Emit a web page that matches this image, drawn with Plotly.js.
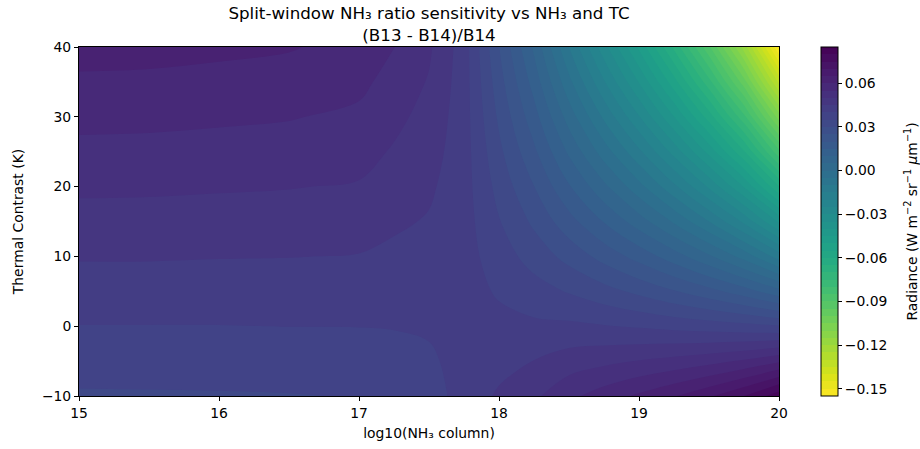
<!DOCTYPE html>
<html><head><meta charset="utf-8">
<script src="https://cdn.plot.ly/plotly-3.0.1.min.js"></script>
<style>html,body{margin:0;padding:0;background:#fff}#chart{width:920px;height:449px}</style>
</head><body><div id="chart"></div>
<script>
// log10(NH3 column) grid
const nh3Column = [15, 15.5, 16, 16.5, 17, 17.25, 17.5, 17.75, 18, 18.25, 18.5, 18.75, 19, 19.25, 19.5, 19.75, 20];
// Thermal contrast (K) grid
const thermalContrast = [-10, -5, 0, 5, 10, 15, 20, 25, 30, 35, 40];
// Ratio sensitivity, one row per thermal contrast
const ratioTCm10 = [0.0344, 0.0345, 0.0346, 0.0348, 0.0352, 0.0367, 0.0372, 0.0425, 0.0456, 0.0490, 0.0538, 0.0574, 0.0609, 0.0646, 0.0691, 0.0749, 0.0830];
const ratioTCm5  = [0.0372, 0.0372, 0.0373, 0.0374, 0.0376, 0.0385, 0.0390, 0.0423, 0.0436, 0.0451, 0.0474, 0.0488, 0.0502, 0.0516, 0.0533, 0.0557, 0.0592];
const ratioTC0   = [0.0399, 0.0399, 0.0399, 0.04005, 0.0401, 0.0402, 0.0408, 0.0421, 0.0415, 0.0410, 0.0410, 0.0403, 0.0395, 0.0385, 0.0376, 0.0366, 0.0354];
const ratioTC5   = [0.0427, 0.0426, 0.0426, 0.0426, 0.0424, 0.0421, 0.0421, 0.0421, 0.0394, 0.0370, 0.0346, 0.0318, 0.0288, 0.0254, 0.0217, 0.0173, 0.0116];
const ratioTC10  = [0.0454, 0.0454, 0.0452, 0.0451, 0.0448, 0.0439, 0.0433, 0.0421, 0.0374, 0.0330, 0.0283, 0.0232, 0.0181, 0.0124, 0.0059, -0.0019, -0.0122];
const ratioTC15  = [0.0482, 0.0481, 0.0479, 0.0477, 0.0472, 0.0458, 0.0446, 0.0421, 0.0353, 0.0290, 0.0219, 0.0147, 0.0074, -0.0007, -0.0099, -0.0211, -0.0360];
const ratioTC20  = [0.0509, 0.0508, 0.0505, 0.0502, 0.0496, 0.0476, 0.0458, 0.0421, 0.0333, 0.0251, 0.0155, 0.0062, -0.0033, -0.0138, -0.0258, -0.0403, -0.0598];
const ratioTC25  = [0.0537, 0.0535, 0.0532, 0.0528, 0.0518, 0.0495, 0.0471, 0.0422, 0.0312, 0.0210, 0.0091, -0.0024, -0.0139, -0.0268, -0.0416, -0.0594, -0.0836];
const ratioTC30  = [0.0564, 0.0563, 0.0558, 0.0553, 0.0540, 0.0513, 0.0483, 0.0423, 0.0291, 0.0170, 0.0028, -0.0109, -0.0246, -0.0399, -0.0574, -0.0786, -0.1074];
const ratioTC35  = [0.0592, 0.0590, 0.0585, 0.0579, 0.0562, 0.0532, 0.0496, 0.0424, 0.0271, 0.0130, -0.0036, -0.0195, -0.0353, -0.0529, -0.0732, -0.0978, -0.1312];
const ratioTC40  = [0.0619, 0.0617, 0.0611, 0.0604, 0.0583, 0.0551, 0.0508, 0.0425, 0.0251, 0.0090, -0.0101, -0.0281, -0.0461, -0.0661, -0.0891, -0.1171, -0.1552];
const ratioRows = [ratioTCm10, ratioTCm5, ratioTC0, ratioTC5, ratioTC10, ratioTC15, ratioTC20, ratioTC25, ratioTC30, ratioTC35, ratioTC40];

const xTickVals = [15, 16, 17, 18, 19, 20];
const yTickVals = [-10, 0, 10, 20, 30, 40];
const yTickText = ['\u221210', '0', '10', '20', '30', '40'];
const cbTickVals = [-0.15, -0.12, -0.09, -0.06, -0.03, 0, 0.03, 0.06];
const cbTickText = ['\u22120.15', '\u22120.12', '\u22120.09', '\u22120.06', '\u22120.03', '0.00', '0.03', '0.06'];

const FONT = 'DejaVu Sans, Verdana, sans-serif';
const TXT = '#000';

const trace = {
  type: 'contour',
  x: nh3Column,
  y: thermalContrast,
  z: ratioRows,
  colorscale: 'Viridis',
  reversescale: true,
  zauto: false,
  zmin: -0.155,
  zmax: 0.085,
  autocontour: false,
  contours: {start: -0.155, end: 0.085, size: 0.005, coloring: 'fill', showlines: false},
  line: {width: 0, smoothing: 1.0},
  hoverinfo: 'skip',
  colorbar: {
    x: 1.06, xanchor: 'left', y: 0.5, yanchor: 'middle',
    len: 1, lenmode: 'fraction', thickness: 17, thicknessmode: 'pixels',
    xpad: 0, ypad: 0,
    outlinewidth: 1, outlinecolor: '#000',
    ticks: 'outside', ticklen: 4, tickwidth: 1, tickcolor: '#000',
    tickmode: 'array', tickvals: cbTickVals, ticktext: cbTickText,
    tickfont: {family: FONT, size: 13.9, color: TXT}
  }
};

const layout = {
  width: 920, height: 449,
  margin: {l: 79, r: 141, t: 47, b: 53, pad: 0},
  paper_bgcolor: '#fff', plot_bgcolor: '#fff',
  font: {family: FONT, color: TXT, size: 13.9},
  title: {
    text: 'Split-window NH\u2083 ratio sensitivity vs NH\u2083 and TC<br>(B13 - B14)/B14',
    x: 0.5, xref: 'paper', xanchor: 'center',
    y: 0.957, yref: 'container', yanchor: 'top',
    font: {family: FONT, size: 16.7, color: TXT}
  },
  xaxis: {
    range: [15, 20], tickmode: 'array', tickvals: xTickVals,
    ticks: 'outside', ticklen: 4, tickwidth: 1, tickcolor: '#000',
    showline: true, mirror: true, linecolor: '#000', linewidth: 1,
    showgrid: false, zeroline: false,
    tickfont: {family: FONT, size: 13.9, color: TXT},
    title: {text: 'log10(NH\u2083 column)', font: {family: FONT, size: 13.9, color: TXT}, standoff: 8}
  },
  yaxis: {
    range: [-10, 40], tickmode: 'array', tickvals: yTickVals, ticktext: yTickText,
    ticks: 'outside', ticklen: 4, tickwidth: 1, tickcolor: '#000',
    showline: true, mirror: true, linecolor: '#000', linewidth: 1,
    showgrid: false, zeroline: false,
    tickfont: {family: FONT, size: 13.9, color: TXT},
    title: {text: 'Thermal Contrast (K)', font: {family: FONT, size: 13.9, color: TXT}, standoff: 15}
  },
  annotations: [{
    text: 'Radiance (W m<sup>\u22122</sup> sr<sup>\u22121</sup> <i>\u03bc</i>m<sup>\u22121</sup>)',
    xref: 'paper', yref: 'paper', x: (911 - 79) / 700, y: 0.5,
    xanchor: 'center', yanchor: 'middle', textangle: -90, showarrow: false,
    font: {family: FONT, size: 13.9, color: TXT}
  }]
};

Plotly.newPlot('chart', [trace], layout, {staticPlot: true, displayModeBar: false});
</script>
</body></html>
